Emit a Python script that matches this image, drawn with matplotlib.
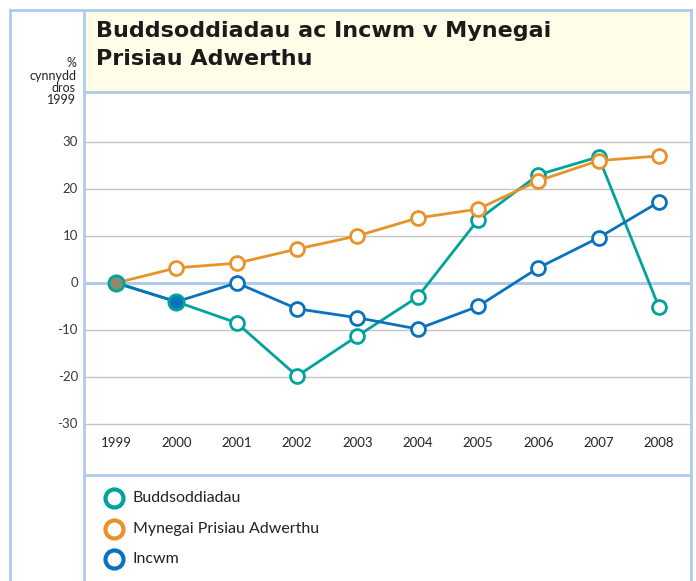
import matplotlib
matplotlib.use("Agg")
import matplotlib.pyplot as plt
from matplotlib.lines import Line2D
from matplotlib.patches import Rectangle
import matplotlib.transforms as mtransforms

years = [1999, 2000, 2001, 2002, 2003, 2004, 2005, 2006, 2007, 2008]
buddsoddiadau = [0, -4.0, -8.5, -19.8, -11.3, -3.0, 13.4, 23.0, 26.8, -5.1]
mynegai = [0, 3.2, 4.2, 7.2, 10.0, 13.8, 15.7, 21.7, 26.0, 27.0]
incwm = [0, -4.0, 0, -5.5, -7.4, -9.8, -5.0, 3.2, 9.6, 17.2]
series_names = ["Buddsoddiadau", "Mynegai Prisiau Adwerthu", "Incwm"]
y_ticks = [-30, -20, -10, 0, 10, 20, 30]
title = "Buddsoddiadau ac Incwm v Mynegai\nPrisiau Adwerthu"
y_label_lines = ["%", "cynnydd", "dros", "1999"]

TEAL = "#00A39C"
ORANGE = "#E8922A"
BLUE = "#0A72BD"
FRAME = "#AECBEC"
GRID = "#C4C4C4"
TEXT = "#3a3a3a"

W, H = 696, 581
plt.rcParams["font.family"] = ["Lato", "DejaVu Sans"]
fig = plt.figure(figsize=(W / 100, H / 100), dpi=100)


def fx(px):
    return px / W


def fy(py):
    return 1 - py / H


# title box
fig.patches.append(Rectangle((fx(84), fy(92)), fx(691) - fx(84), fy(10) - fy(92),
                             transform=fig.transFigure, facecolor="#FFFDE8",
                             edgecolor="none", zorder=0))
fig.text(fx(96), fy(45), title, fontsize=16, fontweight="bold", color="#1e1a1b",
         family="DejaVu Sans", ha="left", va="center", linespacing=1.45)

# plot area
ax = fig.add_axes([fx(84), fy(475), fx(691) - fx(84), fy(92) - fy(475)])
ax.set_xlim(1998.467, 2008.533)
ax.set_ylim(-40.85, 40.6)
for s in ax.spines.values():
    s.set_visible(False)
ax.set_xticks([])
ax.set_yticks([])
for t in y_ticks:
    if t == 0:
        ax.axhline(t, color=FRAME, lw=2.2, zorder=1)
    else:
        ax.axhline(t, color=GRID, lw=1.0, zorder=1)

yl_trans = mtransforms.blended_transform_factory(fig.transFigure, ax.transData)
for t in y_ticks:
    ax.text(fx(78), t, str(t), transform=yl_trans, ha="right", va="center",
            fontsize=9.5, color=TEXT, clip_on=False)

xt_trans = mtransforms.blended_transform_factory(ax.transData, fig.transFigure)
for yr in years:
    ax.text(yr, fy(443), str(yr), transform=xt_trans, ha="center", va="center",
            fontsize=9.5, color="#222222")

for i, line in enumerate(y_label_lines):
    fig.text(fx(76), fy(63 + 12.5 * i), line, ha="right", va="center",
             fontsize=9, color="#222222")

mk = dict(marker="o", markersize=10, markerfacecolor="white", markeredgewidth=2, lw=2)
ax.plot(years, buddsoddiadau, color=TEAL, zorder=3, clip_on=False, **mk)
ax.plot(years, incwm, color=BLUE, zorder=4, clip_on=False, **mk)
ax.plot(years, mynegai, color=ORANGE, zorder=5, clip_on=False, **mk)
# overlapping points drawn as in the original
ax.plot(years[0], buddsoddiadau[0], marker="o", markersize=11, markerfacecolor="#8f8a6c",
        markeredgecolor=TEAL, markeredgewidth=2, zorder=6)
ax.plot(years[1], incwm[1], marker="o", markersize=11, markerfacecolor=BLUE,
        markeredgecolor=TEAL, markeredgewidth=2, zorder=6)

# frame lines
frame_lines = [
    ((10, 10), (10, 581)),
    ((10, 691), (10, 10)),
    ((691, 691), (10, 581)),
    ((84, 84), (10, 581)),
    ((84, 691), (92, 92)),
    ((84, 691), (475, 475)),
]
for xs, ys in frame_lines:
    fig.add_artist(Line2D([fx(v) for v in xs], [fy(v) for v in ys], color=FRAME,
                          lw=2, transform=fig.transFigure, zorder=10))

# legend
colors = [TEAL, ORANGE, BLUE]
for i, (name, c) in enumerate(zip(series_names, colors)):
    yy = fy(498 + 30.5 * i)
    fig.add_artist(Line2D([fx(114)], [yy], marker="o", markersize=13,
                          markerfacecolor="white", markeredgecolor=c, markeredgewidth=3,
                          transform=fig.transFigure))
    fig.text(fx(133), yy, name, ha="left", va="center", fontsize=11.5, color="#222222")

fig.savefig("out.png", dpi=100)
